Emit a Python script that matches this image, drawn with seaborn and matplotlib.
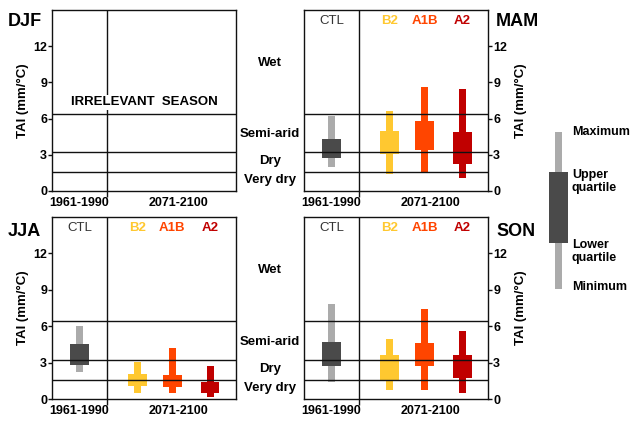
import numpy as np
import pandas as pd
import matplotlib
matplotlib.use("Agg")
import matplotlib.pyplot as plt
import matplotlib.transforms as mtransforms
import seaborn as sns

sns.set_theme(style="ticks")
plt.rcParams['font.family'] = ['Liberation Sans', 'DejaVu Sans']
plt.rcParams['font.weight'] = 'bold'
plt.rcParams['text.color'] = 'black'
plt.rcParams['axes.labelcolor'] = 'black'
plt.rcParams['xtick.color'] = 'black'
plt.rcParams['ytick.color'] = 'black'

# ---------------- data (TAI, mm/°C) ----------------
scenarios = ['CTL', 'B2', 'A1B', 'A2']
x_pos = [0.0, 1.57, 2.52, 3.55]

mam_min = [2.0, 1.45, 1.6, 1.05]
mam_q1 = [2.75, 3.05, 3.4, 2.25]
mam_q3 = [4.35, 4.95, 5.8, 4.9]
mam_max = [6.25, 6.6, 8.65, 8.45]

jja_min = [2.25, 0.55, 0.5, 0.2]
jja_q1 = [2.8, 1.1, 1.0, 0.5]
jja_q3 = [4.55, 2.05, 2.0, 1.45]
jja_max = [6.05, 3.1, 4.25, 2.7]

son_min = [1.45, 0.75, 0.75, 0.5]
son_q1 = [2.7, 1.5, 2.75, 1.75]
son_q3 = [4.7, 3.6, 4.6, 3.6]
son_max = [7.8, 4.95, 7.45, 5.65]

thresholds = [1.6, 3.2, 6.4]
class_names = ['Wet', 'Semi-arid', 'Dry', 'Very dry']
class_y = [10.6, 4.7, 2.5, 0.9]

period_labels = ['1961-1990', '2071-2100']
period_x = [0.0, 2.68]

# schematic key (fraction of bar)
key_min, key_q1, key_q3, key_max = 0.0, 0.29, 0.745, 1.0

box_colors = {'CTL': '#4a4a4a', 'B2': '#FFC830', 'A1B': '#FF4500', 'A2': '#C00000'}
whisk_colors = {'CTL': '#ababab', 'B2': '#FFC830', 'A1B': '#FF4500', 'A2': '#C00000'}
label_colors = {'CTL': '#333333', 'B2': '#FFC830', 'A1B': '#FF4500', 'A2': '#C00000'}

rows = []
for season, mn, q1, q3, mx in [('MAM', mam_min, mam_q1, mam_q3, mam_max),
                               ('JJA', jja_min, jja_q1, jja_q3, jja_max),
                               ('SON', son_min, son_q1, son_q3, son_max)]:
    for s, xp, a, b, c, d in zip(scenarios, x_pos, mn, q1, q3, mx):
        rows.append(dict(season=season, scenario=s, x=xp, min=a, q1=b, q3=c, max=d))
df = pd.DataFrame(rows)

# ---------------- figure ----------------
W, H = 633, 422
fig = plt.figure(figsize=(W / 100, H / 100), dpi=100)


def rect(x0, x1, y0, y1):
    return [x0 / W, 1 - y1 / H, (x1 - x0) / W, (y1 - y0) / H]


panels = {
    'DJF': (rect(52, 236, 10, 191), 'left'),
    'MAM': (rect(303.7, 488.3, 10, 191), 'right'),
    'JJA': (rect(52, 236, 216.7, 399.3), 'left'),
    'SON': (rect(303.7, 488.3, 216.7, 399.3), 'right'),
}
season_xy = {'DJF': (8, 22), 'MAM': (496, 22), 'JJA': (8, 231), 'SON': (496, 231)}

axes = {}
for season, (r, side) in panels.items():
    ax = fig.add_axes(r)
    axes[season] = ax
    ax.set_facecolor('white')
    ax.set_xlim(-0.75, 4.25)
    ax.set_ylim(0, 15)
    for t in thresholds:
        ax.axhline(t, color='#111111', lw=1.0, zorder=4)
    ax.axvline(0.75, color='#111111', lw=1.0, zorder=4)
    for sp in ax.spines.values():
        sp.set_color('#111111')
        sp.set_linewidth(1.0)
        sp.set_visible(True)

    ax.set_yticks([0, 3, 6, 9, 12])
    ax.set_xticks(period_x)
    ax.set_xticklabels(period_labels, fontsize=9, fontweight='bold')
    ax.set_xticks([0.75], minor=True)
    ax.tick_params(axis='x', which='major', length=0, pad=4)
    ax.tick_params(axis='x', which='minor', length=4, width=1, color='#111111', bottom=True)
    ax.tick_params(axis='y', length=3, width=1, color='#111111', pad=0.5, labelsize=9)
    for lab in ax.get_yticklabels():
        lab.set_fontweight('bold')
    if side == 'right':
        ax.yaxis.tick_right()
        ax.yaxis.set_label_position('right')
        ax.set_ylabel('TAI (mm/°C)', fontsize=9.5, fontweight='bold', labelpad=6)
    else:
        ax.set_ylabel('TAI (mm/°C)', fontsize=9.5, fontweight='bold', labelpad=3)
    ax.grid(False)

    sx, sy = season_xy[season]
    fig.text(sx / W, 1 - sy / H, season, fontsize=13, fontweight='bold',
             ha='left', va='center')

    sub = df[df['season'] == season]
    if sub.empty:
        tr = mtransforms.blended_transform_factory(ax.transAxes, ax.transData)
        ax.text(0.5, 7.35, 'IRRELEVANT  SEASON', transform=tr, ha='center', va='center',
                fontsize=9.5, fontweight='bold', zorder=6,
                bbox=dict(facecolor='white', edgecolor='none', pad=1))
        continue
    for _, rw in sub.iterrows():
        s = rw['scenario']
        ax.bar(rw['x'], rw['max'] - rw['min'], bottom=rw['min'], width=0.19,
               color=whisk_colors[s], edgecolor='none', zorder=2)
        ax.bar(rw['x'], rw['q3'] - rw['q1'], bottom=rw['q1'], width=0.5,
               color=box_colors[s], edgecolor='none', zorder=3)
        ax.text(rw['x'], 14.1, s, ha='center', va='center', fontsize=9.5,
                fontweight='normal' if s == 'CTL' else 'bold', color=label_colors[s])

# class labels between the columns
for season in ['DJF', 'JJA']:
    ax = axes[season]
    tr = mtransforms.blended_transform_factory(ax.transAxes, ax.transData)
    for name, yv in zip(class_names, class_y):
        ax.text(1.185, yv, name, transform=tr, ha='center', va='center',
                fontsize=9.5, fontweight='bold', clip_on=False)

# key
axk = fig.add_axes(rect(540, 577, 132, 289))
axk.set_xlim(-0.5, 0.5)
axk.set_ylim(0, 1)
axk.axis('off')
axk.bar(0, key_max - key_min, bottom=key_min, width=0.19, color=whisk_colors['CTL'], edgecolor='none')
axk.bar(0, key_q3 - key_q1, bottom=key_q1, width=0.49, color=box_colors['CTL'], edgecolor='none')
for txt, yv in [('Maximum', 1.0), ('Upper\nquartile', 0.685),
                ('Lower\nquartile', 0.24), ('Minimum', 0.01)]:
    axk.text(0.36, yv, txt, ha='left', va='center', fontsize=9, fontweight='bold',
             linespacing=1.05, clip_on=False)

fig.savefig('out.png', dpi=100, facecolor='white')
